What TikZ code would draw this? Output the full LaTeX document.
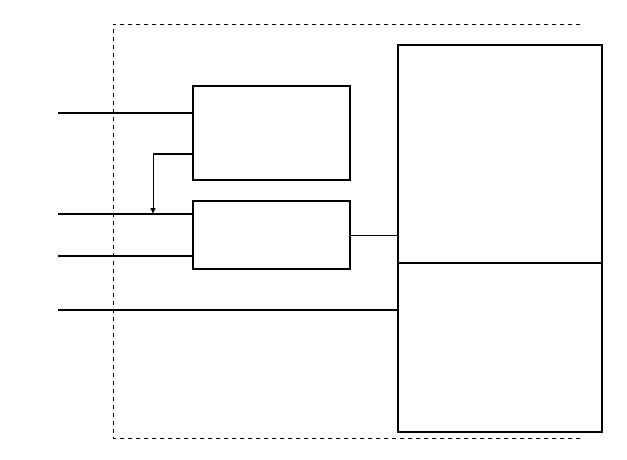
\documentclass[tikz,border=0pt]{standalone}
\usetikzlibrary{arrows.meta}
\begin{document}
\begin{tikzpicture}[x=1pt,y=-1pt,
  blk/.style={draw, line width=1.5pt, inner sep=0pt, outer sep=0pt},
  bigblk/.style={draw, line width=1.8pt, inner sep=0pt, outer sep=0pt},
  wire/.style={line width=1.5pt},
  thinwire/.style={line width=0.9pt},
  border/.style={line width=0.8pt, dash pattern=on 4pt off 4pt}]
\useasboundingbox (0,0) rectangle (627,459);
% dashed enclosure (open at right)
\coordinate (d1) at (580,24);
\coordinate (d2) at (113,24);
\coordinate (d3) at (113,438);
\coordinate (d4) at (580,438);
\draw[border] (d1) -- (d2) -- (d3) -- (d4);
% blocks
\node[blk, minimum width=157pt, minimum height=94pt] (A) at (271.5,133) {};
\node[blk, minimum width=157pt, minimum height=68pt] (B) at (271.5,235) {};
\node[bigblk, minimum width=204pt, minimum height=218pt] (T) at (500,154) {};
\node[bigblk, minimum width=204pt, minimum height=169pt] (L) at (500,347.5) {};
% inputs
\coordinate (i1) at (58,113);
\coordinate (i2) at (58,214);
\coordinate (i3) at (58,256);
\coordinate (i4) at (58,310);
\draw[wire] (i1) -- (i1 -| A.west);
\draw[wire] (i2) -- (i2 -| B.west);
\draw[wire] (i3) -- (i3 -| B.west);
\draw[wire] (i4) -- (i4 -| L.west);
% feedback
\coordinate (fs) at (193,154);
\coordinate (fc) at (153,154);
\coordinate (fe) at (153,214);
\draw[wire] (fs) -- (fc);
\draw[thinwire, -{Latex[length=6pt,width=6pt]}] (fc) -- (fe);
% link B to top block
\draw[thinwire] (B.east) -- (B.east -| T.west);
\end{tikzpicture}
\end{document}
